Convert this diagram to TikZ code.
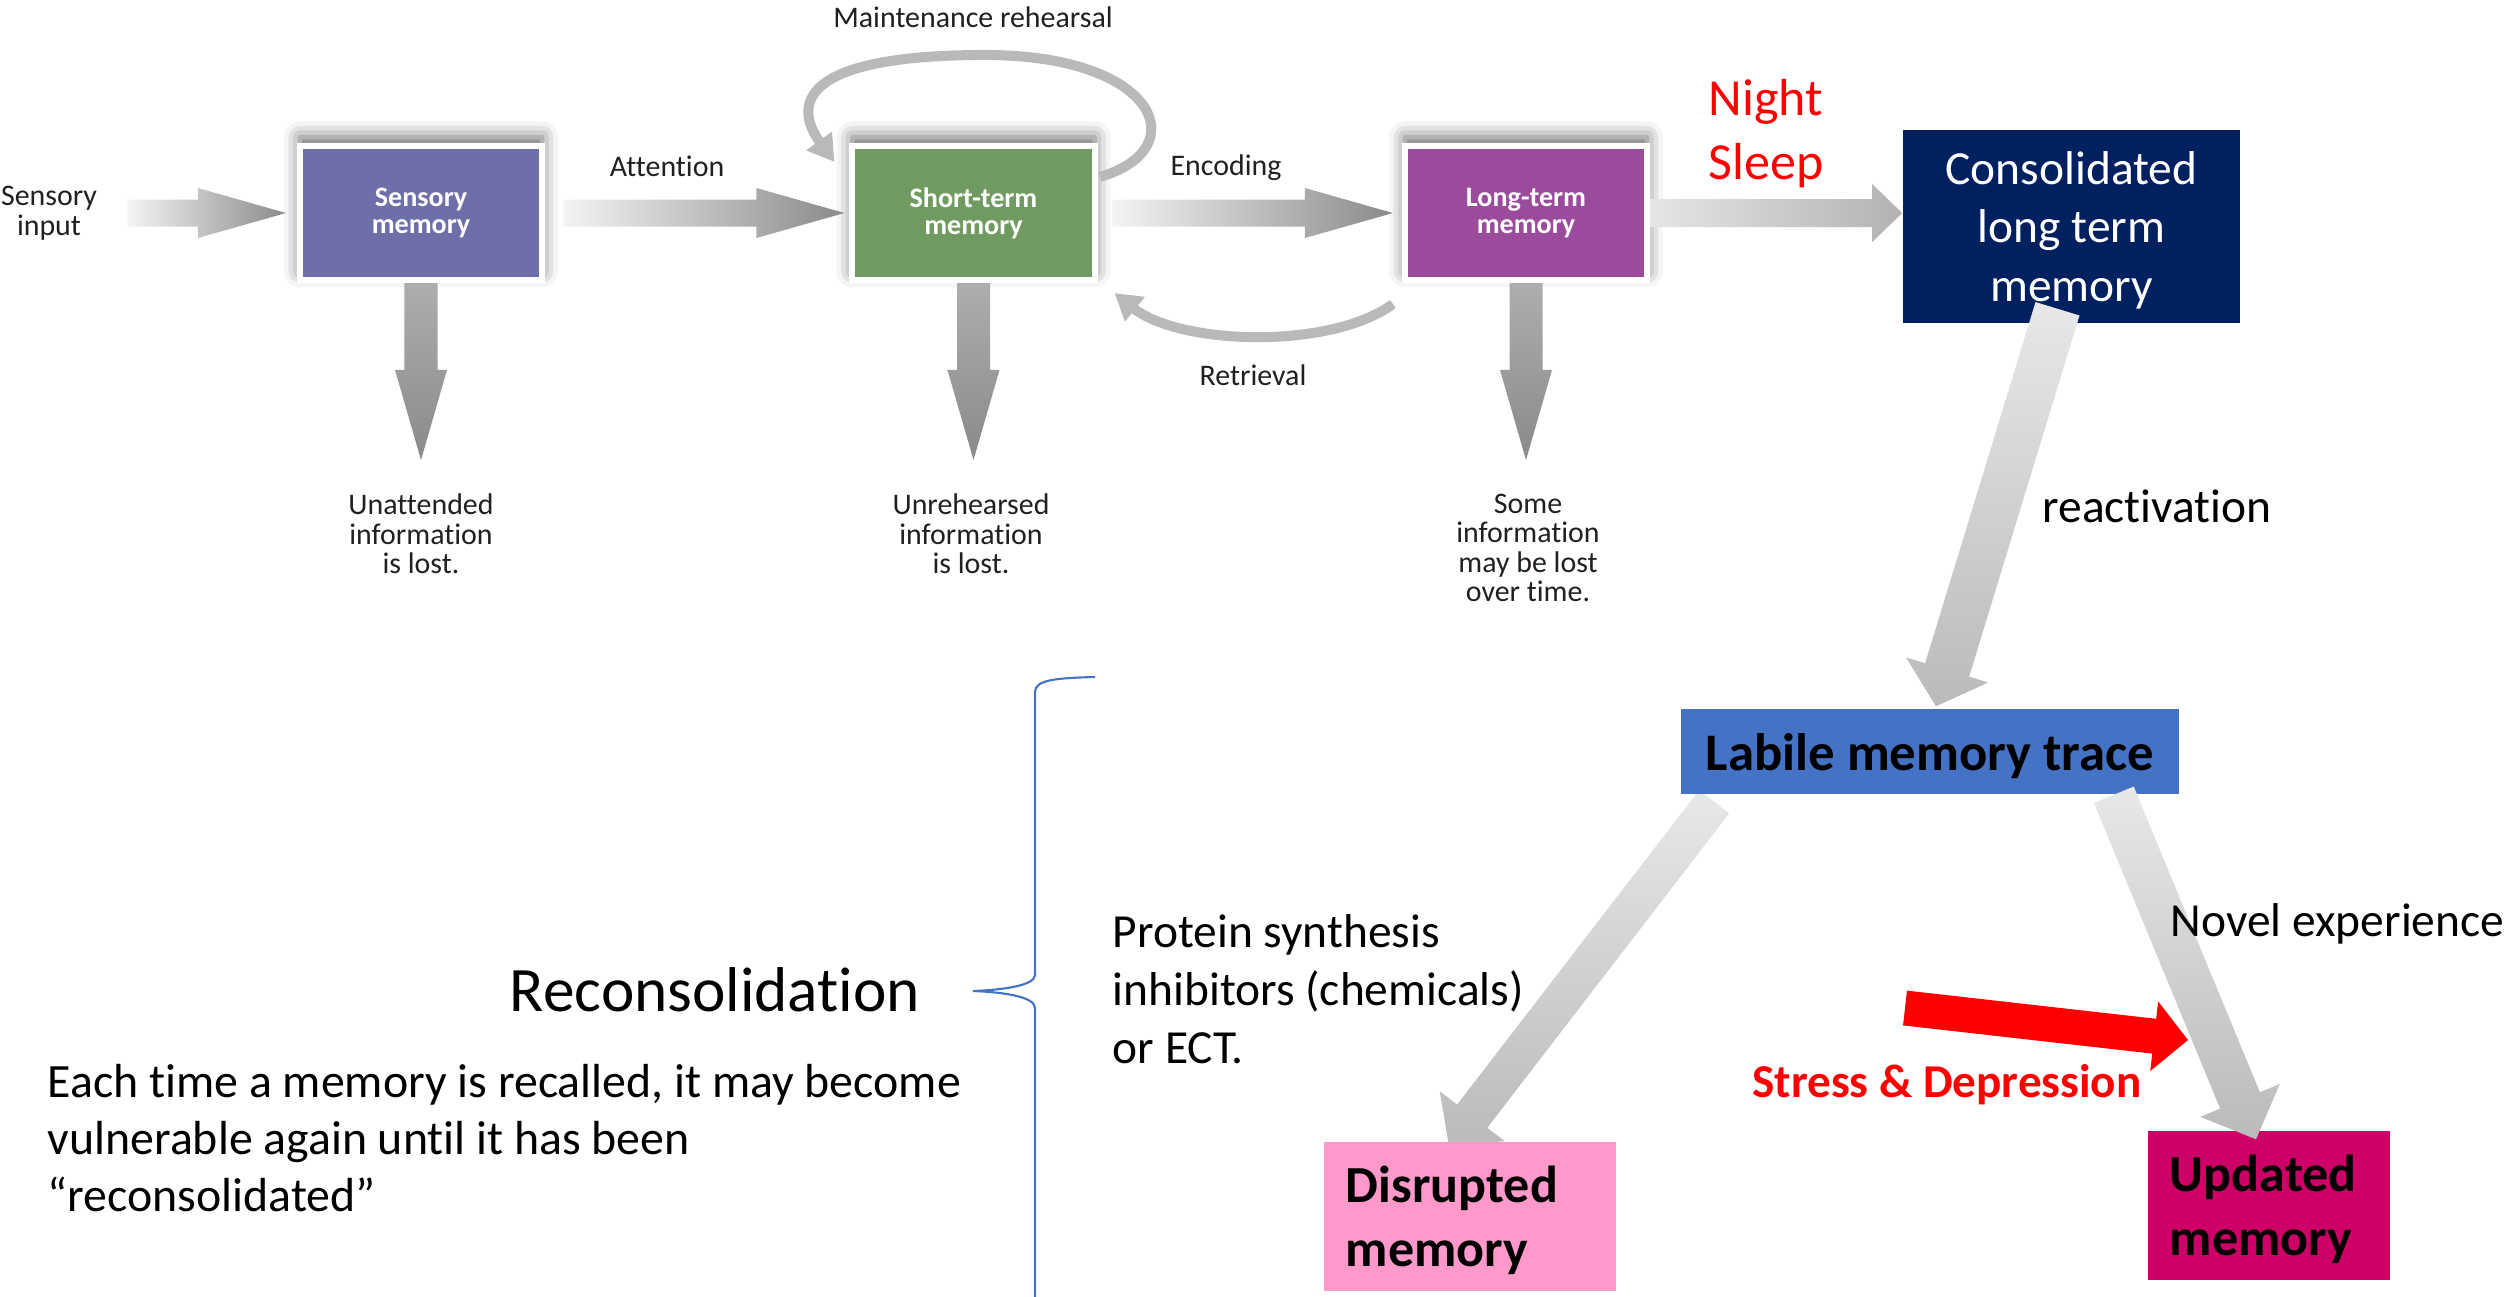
\documentclass[tikz,border=0pt]{standalone}
\usepackage{fontspec}
\setmainfont{Carlito}[Ligatures=NoCommon]
\usepackage{tikz}
\usetikzlibrary{calc, positioning, arrows.meta, shadows.blur}

\definecolor{sensorycol}{HTML}{6E6EA9}
\definecolor{shortcol}{HTML}{709B60}
\definecolor{longcol}{HTML}{9A4B9C}
\definecolor{consolcol}{HTML}{002060}
\definecolor{labilecol}{HTML}{4472C4}
\definecolor{disruptcol}{HTML}{FF99CC}
\definecolor{updatecol}{HTML}{CC0066}
\definecolor{flowlight}{HTML}{F4F4F4}
\definecolor{flowdark}{HTML}{8A8A8D}
\definecolor{loopgray}{HTML}{B9B9BC}
\definecolor{inktext}{HTML}{231F20}

\pgfdeclarelayer{back}
\pgfsetlayers{back,main}

% block arrow: [style]{from}{to}{half shaft}{half head}{head length}
\newcommand\fatarrow[6][]{%
  \coordinate (fa-s) at (#2);
  \coordinate (fa-e) at (#3);
  \coordinate (fa-b) at ($(fa-e)!#6!(fa-s)$);
  \path[#1] ($(fa-s)!#4!90:(fa-e)$) -- ($(fa-b)!#4!-90:(fa-s)$)
    -- ($(fa-b)!#5!-90:(fa-s)$) -- (fa-e) -- ($(fa-b)!#5!90:(fa-s)$)
    -- ($(fa-b)!#4!90:(fa-s)$) -- ($(fa-s)!#4!-90:(fa-e)$) -- cycle;}

\begin{document}
\begin{tikzpicture}[x=0.01cm, y=-0.01cm,
    stage/.style={draw=white, line width=1.7pt, minimum width=2.42cm, minimum height=1.34cm,
      text=white, align=center, font=\fontsize{8}{7.7}\selectfont\bfseries,
      blur shadow={shadow xshift=0pt, shadow yshift=2.5pt, shadow blur radius=4.5pt, shadow opacity=60}},
    note/.style={inner sep=0pt, align=center, text=inktext, font=\fontsize{8.5}{8.4}\selectfont},
    slide/.style={inner sep=0pt, font=\fontsize{13.5}{16.4}\selectfont},
    outcome/.style={minimum height=1.49cm, inner xsep=0.22cm, align=left, text depth=18.3pt,
      font=\fontsize{14.8}{18.3}\selectfont\bfseries},
    tbarrow/.style={left color=flowlight, right color=flowdark},
    droparrow/.style={top color=black!32, bottom color=flowdark},
    sleeparrow/.style={left color=black!10, right color=black!30},
    tracearrow/.style={top color=black!9, bottom color=black!27},
    turnarrow/.style={draw=loopgray, line width=0.1cm, -{Triangle[width=0.3cm, length=0.26cm]}}]
\useasboundingbox (0,0) rectangle (2509,1296);

% the three stores
\node[stage, fill=sensorycol] (sm) at (421, 213) {Sensory\\memory};
\node[stage, fill=shortcol] (stm) at (973.5, 213) {Short-term\\memory};
\node[stage, fill=longcol] (ltm) at (1526, 213) {Long-term\\memory};

\node[note] (input) at (49, 213) {Sensory\\input};
\node[note] (attn) at (667, 166) {Attention};
\node[note] (enc) at (1226, 168) {Encoding};
\node[note] (maint) at (973, 17) {Maintenance rehearsal};
\node[note] (retr) at (1253, 375) {Retrieval};
\node[note, anchor=north] (lost1) at (421, 493) {Unattended\\information\\is lost.};
\node[note, anchor=north] (lost2) at (971, 493) {Unrehearsed\\information\\is lost.};
\node[note, anchor=north] (lost3) at (1528, 493) {Some\\information\\may be lost\\over time.};

\fatarrow[tbarrow]{$(input.east)+(30,0)$}{$(sm.west)+(-11,0)$}{0.135cm}{0.25cm}{0.88cm}
\fatarrow[tbarrow]{$(sm.east)+(18,0)$}{$(stm.west)+(-5,0)$}{0.135cm}{0.25cm}{0.88cm}
\fatarrow[tbarrow]{$(stm.east)+(15,0)$}{$(ltm.west)+(-9,0)$}{0.135cm}{0.25cm}{0.88cm}
\fatarrow[droparrow]{sm.south}{$(lost1.north)+(0,-33)$}{0.165cm}{0.26cm}{0.9cm}
\fatarrow[droparrow]{stm.south}{$(stm.south |- lost2.north)+(0,-33)$}{0.165cm}{0.26cm}{0.9cm}
\fatarrow[droparrow]{ltm.south}{$(ltm.south |- lost3.north)+(0,-33)$}{0.165cm}{0.26cm}{0.9cm}

\draw[turnarrow] ($(stm.north east)+(2,34)$) .. controls +(95,-27) and +(175,0) .. ($(stm.north)+(11.5,-88)$)
  .. controls +(-195,0) and +(-38,-52) .. ($(stm.north west)+(-15,19)$);
\draw[turnarrow] ($(ltm.south west)+(-9,21)$) .. controls +(-63,46) and +(65,52) .. ($(stm.south east)+(17,10)$);

% consolidation and the reconsolidation loop
\node[fill=consolcol, text=white, minimum width=3.37cm, minimum height=1.93cm, align=center,
      text depth=0pt, font=\fontsize{13.5}{16.5}\selectfont] (ctm) at (2071.5, 226.5) {Consolidated\\long term\\memory};
\node[text=red, align=center, inner sep=0pt, anchor=north, font=\fontsize{14.8}{18}\selectfont] (sleep) at (1766, 79) {Night\\Sleep};
\fatarrow[sleeparrow]{ltm.east}{ctm.west |- ltm.east}{0.14cm}{0.29cm}{0.3cm}

\node[slide] (react) at (2157, 506) {reactivation};
\node[fill=labilecol, minimum width=4.98cm, minimum height=0.85cm, text depth=0pt,
      font=\fontsize{15}{18}\selectfont\bfseries] (lab) at (1930, 751.5) {Labile memory trace};
\node[outcome, fill=disruptcol, text width=2.48cm] (dis) at (1470, 1216.5) {Disrupted\\memory};
\node[outcome, fill=updatecol, text width=1.98cm] (upd) at (2269, 1205.5) {Updated\\memory};

\fatarrow[tracearrow]{$(ctm.south)+(-14,-15)$}{$(lab.north)+(6,-2)$}{0.23cm}{0.43cm}{0.38cm}
\begin{pgfonlayer}{back}
\fatarrow[tracearrow]{$(lab.south west)+(34,7)$}{$(dis.north)+(-21,5)$}{0.19cm}{0.41cm}{0.38cm}
\end{pgfonlayer}
\fatarrow[tracearrow]{$(lab.south east)+(-66,0)$}{$(upd.north)+(-13,9)$}{0.215cm}{0.43cm}{0.42cm}

\node[slide, align=left, anchor=north west] (prot) at (1112, 914) {Protein synthesis\\inhibitors (chemicals)\\or ECT.};
\node[slide, anchor=north west] (novel) at (2170, 903) {Novel experience};

\coordinate (stress-tail) at (1905, 1008);
\coordinate (stress-tip) at (2188, 1040);
\fatarrow[fill=red]{stress-tail}{stress-tip}{0.175cm}{0.35cm}{0.34cm}
\node[text=red, font=\fontsize{13.4}{16}\selectfont\bfseries] (stress) at (1947, 1085) {Stress \& Depression};

\node[slide, font=\fontsize{18}{22}\selectfont] (recon) at (715, 990) {Reconsolidation};
\node[slide, align=left, anchor=north west, font=\fontsize{13.6}{16.2}\selectfont] (para) at (47, 1064)
  {Each time a memory is recalled, it may become\\vulnerable again until it has been\\“reconsolidated”};

% brace
\draw[labilecol, line width=0.6pt] (1095, 677) .. controls (1055, 678) and (1035, 680) .. (1035, 692)
  -- (1035, 975) .. controls (1035, 986) and (1000, 990) .. (973, 991)
  .. controls (1000, 992) and (1035, 996) .. (1035, 1008) -- (1035, 1310);
\end{tikzpicture}
\end{document}
